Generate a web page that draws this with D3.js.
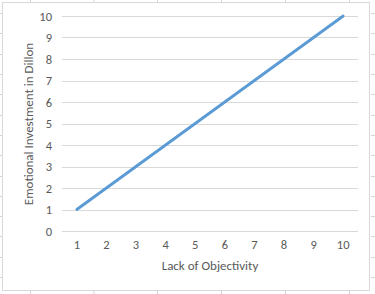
<!DOCTYPE html>
<html>
<head>
<meta charset="utf-8">
<script src="https://cdn.jsdelivr.net/npm/d3@7"></script>
<style>
  body { margin: 0; background: #fff; }
  svg { display: block; font-family: Calibri, Carlito, Lato, sans-serif; }
</style>
</head>
<body>
<script>
// data
var categories = [1, 2, 3, 4, 5, 6, 7, 8, 9, 10];
var investment = [1, 2, 3, 4, 5, 6, 7, 8, 9, 10];
var yTicks = [0, 1, 2, 3, 4, 5, 6, 7, 8, 9, 10];

var W = 375, H = 294;
var plot = {left: 62, right: 358, top: 16, bottom: 231};

var svg = d3.select("body").append("svg")
    .attr("width", W)
    .attr("height", H);

// sheet cells peeking out around the chart
var colLines = [30, 93.5, 157, 221, 285, 349];
var rowLines = d3.range(13.1, 290, 20.3);
svg.selectAll("line.colTop").data(colLines).enter().append("line")
   .attr("x1", function(d) { return d + 0.5; }).attr("x2", function(d) { return d + 0.5; })
   .attr("y1", 0).attr("y2", 2)
   .attr("stroke", "#d4d4d4");
svg.selectAll("line.colBot").data(colLines).enter().append("line")
   .attr("x1", function(d) { return d + 0.5; }).attr("x2", function(d) { return d + 0.5; })
   .attr("y1", 291).attr("y2", H)
   .attr("stroke", "#d4d4d4");
svg.selectAll("line.rowL").data(rowLines).enter().append("line")
   .attr("x1", 0).attr("x2", 2)
   .attr("y1", function(d) { return Math.round(d) + 0.5; }).attr("y2", function(d) { return Math.round(d) + 0.5; })
   .attr("stroke", "#d4d4d4");
svg.selectAll("line.rowR").data(rowLines).enter().append("line")
   .attr("x1", 371).attr("x2", W)
   .attr("y1", function(d) { return Math.round(d) + 0.5; }).attr("y2", function(d) { return Math.round(d) + 0.5; })
   .attr("stroke", "#d4d4d4");

// chart frame
svg.append("rect")
   .attr("x", 2.5).attr("y", 2.5)
   .attr("width", 367).attr("height", 288)
   .attr("fill", "#fff")
   .attr("stroke", "#d9d9d9");

var x = d3.scaleBand()
    .domain(categories)
    .range([plot.left, plot.right]);

var y = d3.scaleLinear()
    .domain([0, 10])
    .range([plot.bottom, plot.top]);

// gridlines
svg.selectAll("line.grid").data(yTicks).enter().append("line")
   .attr("x1", plot.left).attr("x2", plot.right)
   .attr("y1", function(d) { return Math.round(y(d)) + 0.5; })
   .attr("y2", function(d) { return Math.round(y(d)) + 0.5; })
   .attr("stroke", "#d9d9d9")
   .attr("stroke-width", 1);

// y axis labels
var yAxis = svg.append("g")
    .attr("transform", "translate(" + plot.left + ",0)")
    .call(d3.axisLeft(y).tickValues(yTicks).tickSize(0).tickPadding(10));
yAxis.select(".domain").remove();
yAxis.selectAll("text")
     .attr("fill", "#595959")
     .style("font-size", "12.5px")
     .style("font-family", "Calibri, Carlito, Lato, sans-serif");

// x axis labels
var xAxis = svg.append("g")
    .attr("transform", "translate(0," + plot.bottom + ")")
    .call(d3.axisBottom(x).tickSize(0).tickPadding(9));
xAxis.select(".domain").remove();
xAxis.selectAll("text")
     .attr("fill", "#595959")
     .style("font-size", "12.5px")
     .style("font-family", "Calibri, Carlito, Lato, sans-serif");

// the series
var line = d3.line()
    .x(function(d, i) { return x(categories[i]) + x.bandwidth() / 2; })
    .y(function(d) { return y(d); });

svg.append("path")
   .datum(investment)
   .attr("d", line)
   .attr("fill", "none")
   .attr("stroke", "#5b9bd5")
   .attr("stroke-width", 2.8)
   .attr("stroke-linecap", "round")
   .attr("stroke-linejoin", "round");

// axis titles
svg.append("text")
   .text("Lack of Objectivity")
   .attr("x", 210)
   .attr("y", 270)
   .attr("text-anchor", "middle")
   .attr("fill", "#595959")
   .style("font-size", "13px");

svg.append("text")
   .text("Emotional Investment in Dillon")
   .attr("transform", "translate(33,124) rotate(-90)")
   .attr("text-anchor", "middle")
   .attr("fill", "#595959")
   .style("font-size", "13px");
</script>
</body>
</html>
